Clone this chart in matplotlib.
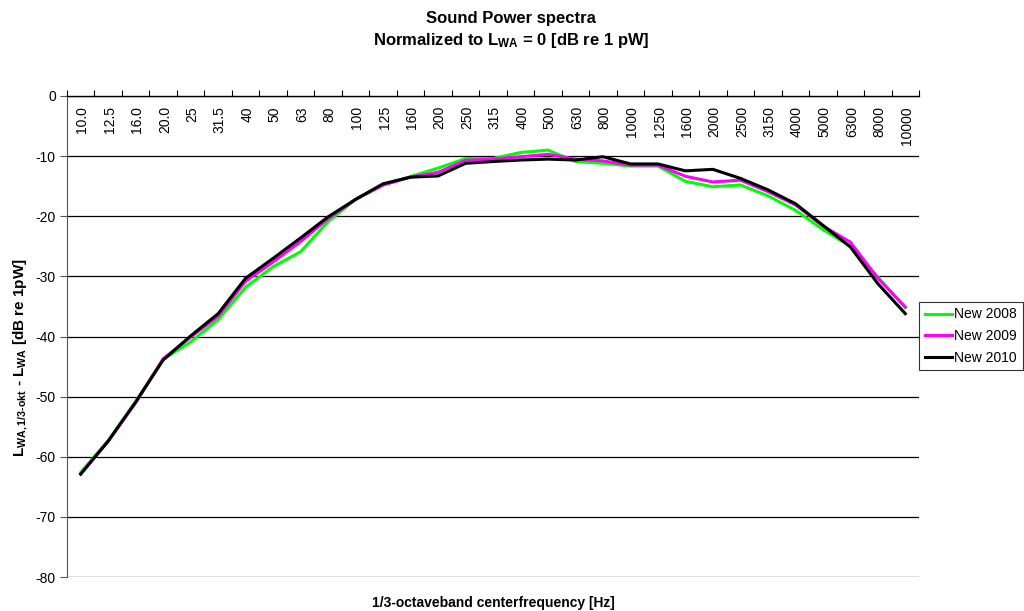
import numpy as np
import matplotlib
matplotlib.use("Agg")
import matplotlib.pyplot as plt
from matplotlib.transforms import blended_transform_factory

plt.rcParams['font.family'] = ['Liberation Sans', 'DejaVu Sans']
plt.rcParams['mathtext.fontset'] = 'custom'
plt.rcParams['mathtext.rm'] = 'Liberation Sans'
plt.rcParams['mathtext.bf'] = 'Liberation Sans:bold'
plt.rcParams['mathtext.it'] = 'Liberation Sans:italic'
plt.rcParams['axes.unicode_minus'] = False

# 1/3-octave band centre frequencies
freqs = ["10.0", "12.5", "16.0", "20.0", "25", "31.5", "40", "50", "63", "80",
         "100", "125", "160", "200", "250", "315", "400", "500", "630", "800",
         "1000", "1250", "1600", "2000", "2500", "3150", "4000", "5000", "6300",
         "8000", "10000"]

new_2008 = [-62.6, -57.3, -50.8, -43.8, -40.9, -37.2, -31.8, -28.4, -25.9, -20.9,
            -17.2, -14.8, -13.4, -12.0, -10.4, -10.4, -9.4, -9.0, -10.9, -11.2,
            -11.65, -11.65, -14.2, -15.1, -14.8, -16.6, -19.0, -22.2, -25.0,
            -30.1, -35.2]
new_2009 = [-62.8, -57.4, -51.0, -43.7, -40.1, -36.6, -30.8, -27.6, -24.2, -20.4,
            -17.2, -14.8, -13.5, -12.7, -10.7, -10.5, -10.1, -9.7, -10.5, -10.8,
            -11.5, -11.5, -13.35, -14.3, -14.0, -15.9, -18.1, -21.6, -24.3,
            -30.3, -35.1]
new_2010 = [-62.9, -57.4, -50.9, -43.9, -39.9, -36.2, -30.3, -27.0, -23.6, -20.1,
            -17.2, -14.6, -13.5, -13.3, -11.2, -10.9, -10.65, -10.5, -10.65, -10.1,
            -11.3, -11.3, -12.45, -12.2, -13.7, -15.6, -17.9, -21.5, -25.1,
            -31.2, -36.2]

series = [("New 2008", new_2008, "#00ff00"),
          ("New 2009", new_2009, "#ff00ff"),
          ("New 2010", new_2010, "#000000")]

fig = plt.figure(figsize=(10.24, 6.11), dpi=100)
ax = fig.add_axes([0.0654, 0.0556, 0.8321, 0.7873])

x = np.arange(len(freqs))
for name, vals, col in series:
    ax.plot(x, vals, color=col, linewidth=2.2, label=name, solid_joinstyle='miter')

ax.set_xlim(-0.5, len(freqs) - 0.5)
ax.set_ylim(-80, 0)
ax.set_yticks(np.arange(-80, 1, 10))
ax.yaxis.grid(True, color='black', linewidth=0.9)
ax.set_axisbelow(True)

for s in ['right', 'bottom']:
    ax.spines[s].set_visible(False)
ax.spines['left'].set_color('#555555')
ax.spines['top'].set_color('black')
ax.spines['top'].set_linewidth(1.0)

# category axis sits at y=0 (top), tick marks between categories
ax.xaxis.tick_top()
ax.set_xticks(np.arange(-0.5, len(freqs), 1.0))
ax.set_xticklabels([])
ax.tick_params(axis='x', direction='out', length=4, width=0.8, color='black')
ax.tick_params(axis='y', direction='out', length=5, width=0.8, color='#555555',
               labelsize=10, pad=3)

trans = blended_transform_factory(ax.transData, ax.transAxes)
for i, lab in enumerate(freqs):
    ax.text(i + 0.06, 0.979, lab, transform=trans, rotation=90, ha='center', va='top',
            fontsize=10)

ax.text(0.5, -0.054, "1/3-octaveband centerfrequency [Hz]", transform=ax.transAxes,
        ha='center', va='center', fontsize=10, fontweight='bold')
ylab = r"$\mathbf{L_{WA,1/3" + "\u2010" + r"okt}}$ - $\mathbf{L_{WA}}$ [dB re 1pW]"
fig.text(0.02, 0.415, ylab, rotation=90, ha='center', va='center',
         fontsize=11, fontweight='bold')

fig.text(0.499, 0.969, "Sound Power spectra", ha='center', va='center',
         fontsize=12, fontweight='bold')
fig.text(0.499, 0.934, r"Normalized to $\mathbf{L_{WA}}$ = 0 [dB re 1 pW]", ha='center',
         va='center', fontsize=12, fontweight='bold')

leg = ax.legend(loc='upper left', bbox_to_anchor=(1.0, 0.572), frameon=True,
                fancybox=False, edgecolor='black', fontsize=10, handlelength=2.0,
                handletextpad=0.15, borderpad=0.4, labelspacing=0.55,
                borderaxespad=0.0)
leg.get_frame().set_linewidth(0.8)

fig.savefig("out.png", dpi=100)
